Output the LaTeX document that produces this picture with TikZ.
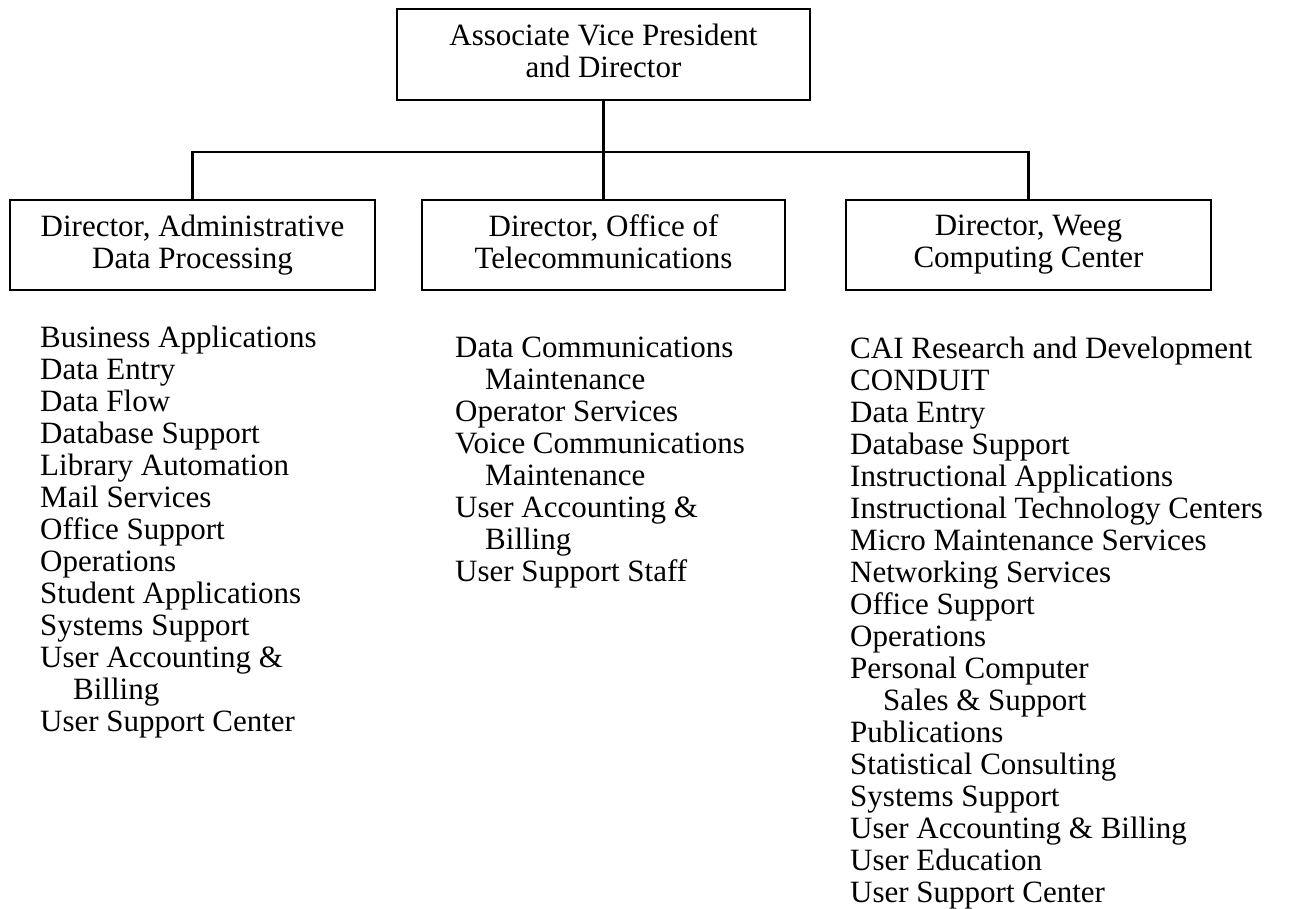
\documentclass[tikz,border=0pt]{standalone}
\usepackage{fontspec}
\setmainfont{Liberation Serif}
% one line per \cr, fixed baseline spacing, first baseline is the node's base
\newcommand{\orglist}[1]{\vtop{\baselineskip=32pt\lineskiplimit=-100pt\halign{##\hfil\cr #1\crcr}}}
\newcommand{\sub}{\hspace*{33pt}}
\begin{document}
\begin{tikzpicture}[x=1pt,y=-1pt,
  every node/.style={font=\fontsize{31}{32}\selectfont},
  unit/.style={draw, line width=2.8pt, rectangle, inner sep=0pt,
    minimum height=90pt, align=center},
  link/.style={line width=2.8pt, line cap=rect},
  roster/.style={anchor=base west, inner sep=0pt}]
\useasboundingbox (0,0) rectangle (1290,909);

% boxes
\node[unit, minimum width=413pt, minimum height=91pt] (avp) at (603.5,54.5)
  {Associate Vice President\\and Director\vphantom{g}};
\node[unit, minimum width=365pt] (adp) at (192.5,245)
  {Director, Administrative\\Data Processing};
\node[unit, minimum width=363pt] (tel) at (603.5,245)
  {Director, Office of\\Telecommunications\vphantom{g}};
\node[unit, minimum width=365pt] (wcc) at (1028.5,245)
  {Director, Weeg\\Computing Center};

% connectors
\coordinate (bar) at (603.5,152);
\draw[link] (avp.south) -- (tel.north);
\draw[link] (adp.north) |- (bar) -| (wcc.north);

% unit lists
\node[roster] (adplist) at (40,347) {\orglist{%
Business Applications\cr
Data Entry\cr
Data Flow\cr
Database Support\cr
Library Automation\cr
Mail Services\cr
Office Support\cr
Operations\cr
Student Applications\cr
Systems Support\cr
User Accounting \&\cr
\sub Billing\cr
User Support Center}};

\node[roster] (tellist) at (455,357) {\orglist{%
Data Communications\cr
\hspace*{30pt}Maintenance\cr
Operator Services\cr
Voice Communications\cr
\hspace*{30pt}Maintenance\cr
User Accounting \&\cr
\hspace*{30pt}Billing\cr
User Support Staff}};

\node[roster] (wcclist) at (850,358) {\orglist{%
CAI Research and Development\cr
CONDUIT\cr
Data Entry\cr
Database Support\cr
Instructional Applications\cr
Instructional Technology Centers\cr
Micro Maintenance Services\cr
Networking Services\cr
Office Support\cr
Operations\cr
Personal Computer\cr
\sub Sales \& Support\cr
Publications\cr
Statistical Consulting\cr
Systems Support\cr
User Accounting \& Billing\cr
User Education\cr
User Support Center}};
\end{tikzpicture}
\end{document}
